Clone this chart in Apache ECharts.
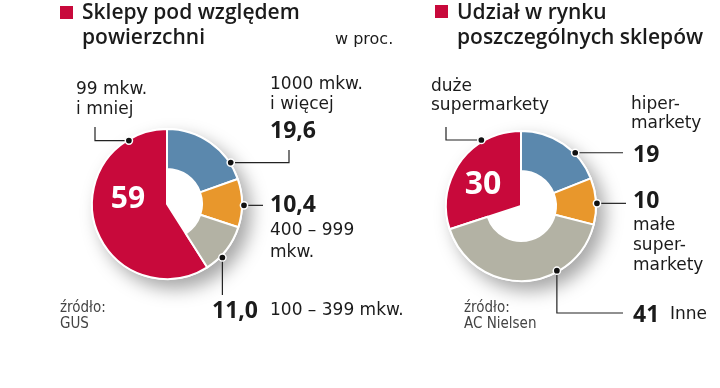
<!DOCTYPE html>
<html><head><meta charset="utf-8">
<script src="https://cdn.jsdelivr.net/npm/echarts@6/dist/echarts.min.js"></script>
<style>html,body{margin:0;padding:0;background:#fff}#c{width:720px;height:388px}</style>
</head><body><div id="c"></div>
<script>
// ---- data ----
const leftTitle = ['Sklepy pod względem', 'powierzchni'];
const leftUnit = 'w proc.';
const leftCategories = ['1000 mkw. i więcej', '400 – 999 mkw.', '100 – 399 mkw.', '99 mkw. i mniej'];
const leftValues = [19.6, 10.4, 11.0, 59];
const leftSource = ['źródło:', 'GUS'];

const rightTitle = ['Udział w rynku', 'poszczególnych sklepów'];
const rightCategories = ['hipermarkety', 'małe supermarkety', 'Inne', 'duże supermarkety'];
const rightValues = [19, 10, 41, 30];
const rightSource = ['źródło:', 'AC Nielsen'];

// ---- styles / layout ----
const COLORS = ['#5b88ad', '#e8972c', '#b3b2a4', '#c8093b'];
const RED = 3;
const R_OUT = 75, R_IN = 35;
const LC = [167, 204], RC = [521, 206];
const REG = '"DejaVu Sans", sans-serif';
const BOLD = '"Open Sans", sans-serif';
const SRC = '"DejaVu Sans Condensed", "Liberation Sans Narrow", sans-serif';
const INK = '#1b1b1b';

const fmt = (v, d) => v.toFixed(d).replace('.', ',');

function pieSeries(center, values, names) {
  return [
    { type: 'pie', center, radius: [0, R_OUT + 1], silent: true, z: 1, label: { show: false },
      data: [{ value: 1, name: 'bg', itemStyle: { color: '#fff', shadowBlur: 18, shadowColor: 'rgba(0,0,0,0.35)', shadowOffsetX: 8, shadowOffsetY: 9 } }] },
    { type: 'pie', center, radius: [0, R_OUT], silent: true, z: 2, label: { show: false }, startAngle: 90,
      data: values.map((v, i) => ({ value: v, name: names[i], itemStyle: i === RED
        ? { color: COLORS[i], borderColor: '#fff', borderWidth: 2 }
        : { color: 'rgba(0,0,0,0)', borderWidth: 0 } })) },
    { type: 'pie', center, radius: [R_IN, R_OUT], silent: true, z: 3, label: { show: false }, startAngle: 90,
      data: values.map((v, i) => ({ value: v, name: names[i], itemStyle: i === RED
        ? { color: 'rgba(0,0,0,0)', borderWidth: 0 }
        : { color: COLORS[i], borderColor: '#fff', borderWidth: 2 } })) }
  ];
}

const G = [];
function T(x, y, text, size, opts) {
  opts = opts || {};
  G.push({ type: 'text', x, y, z: 100, style: { text, fill: opts.fill || INK,
    font: (opts.weight || 'normal') + ' ' + size + 'px ' + (opts.family || REG),
    align: opts.align || 'left', verticalAlign: 'middle' } });
}
function leader(center, angleDeg, r, pts) {
  const a = angleDeg * Math.PI / 180;
  const ax = center[0] + r * Math.sin(a), ay = center[1] - r * Math.cos(a);
  const points = [[ax, ay]].concat(pts.map(p => [p[0] === null ? ax : p[0], p[1] === null ? ay : p[1]]));
  G.push({ type: 'polyline', z: 90, shape: { points }, style: { stroke: '#222', lineWidth: 1.2, fill: null } });
  G.push({ type: 'circle', z: 95, shape: { cx: ax, cy: ay, r: 3.6 }, style: { fill: '#111', stroke: '#fff', lineWidth: 1.5 } });
}
function square(x, y) {
  G.push({ type: 'rect', z: 100, shape: { x, y, width: 13, height: 13 }, style: { fill: COLORS[RED] } });
}

// left chart annotations
square(60, 6);
T(82, 13, leftTitle[0], 21, { weight: 600, family: BOLD });
T(82, 38, leftTitle[1], 21, { weight: 600, family: BOLD });
T(335, 40, leftUnit, 16);
T(76, 90, '99 mkw.', 17);
T(76, 110, 'i mniej', 17);
T(270, 85, '1000 mkw.', 17);
T(270, 105, 'i więcej', 17);
T(270, 131, fmt(leftValues[0], 1), 23, { weight: 700, family: BOLD });
T(270, 205, fmt(leftValues[1], 1), 23, { weight: 700, family: BOLD });
T(270, 231, '400 – 999', 17);
T(270, 253, 'mkw.', 17);
T(212, 311, fmt(leftValues[2], 1), 23, { weight: 700, family: BOLD });
T(270, 311, leftCategories[2], 17);
T(128, 199, fmt(leftValues[3], 0), 30, { weight: 700, family: BOLD, fill: '#fff', align: 'center' });
T(60, 308, leftSource[0], 15, { family: SRC, fill: '#444' });
T(60, 324, leftSource[1], 15, { family: SRC, fill: '#444' });
leader(LC, 329, 74, [[95, null], [95, 127]]);
leader(LC, 57, 76, [[289, null], [289, 150]]);
leader(LC, 91, 77, [[263, null]]);
leader(LC, 134, 77, [[null, 295]]);

// right chart annotations
square(435, 5);
T(457, 13, rightTitle[0], 21, { weight: 600, family: BOLD });
T(457, 38, rightTitle[1], 21, { weight: 600, family: BOLD });
T(431, 87, 'duże', 17);
T(431, 106, 'supermarkety', 17);
T(631, 105, 'hiper-', 17);
T(631, 124, 'markety', 17);
T(633, 155, fmt(rightValues[0], 0), 23, { weight: 700, family: BOLD });
T(633, 201, fmt(rightValues[1], 0), 23, { weight: 700, family: BOLD });
T(633, 226, 'małe', 17);
T(633, 246, 'super-', 17);
T(633, 266, 'markety', 17);
T(633, 315, fmt(rightValues[2], 0), 23, { weight: 700, family: BOLD });
T(670, 315, rightCategories[2], 17);
T(483, 185, fmt(rightValues[3], 0), 32, { weight: 700, family: BOLD, fill: '#fff', align: 'center' });
T(464, 308, rightSource[0], 15, { family: SRC, fill: '#444' });
T(464, 324, rightSource[1], 15, { family: SRC, fill: '#444' });
leader(RC, 329, 77, [[446, null], [446, 127]]);
leader(RC, 45.5, 76, [[623, null]]);
leader(RC, 88, 76, [[626, null]]);
leader(RC, 151, 74, [[null, 313], [623, 313]]);

const chart = echarts.init(document.getElementById('c'), null, { renderer: 'canvas' });
chart.setOption({
  animation: false,
  backgroundColor: '#fff',
  series: [].concat(pieSeries(LC, leftValues, leftCategories), pieSeries(RC, rightValues, rightCategories)),
  graphic: G
});
</script></body></html>
